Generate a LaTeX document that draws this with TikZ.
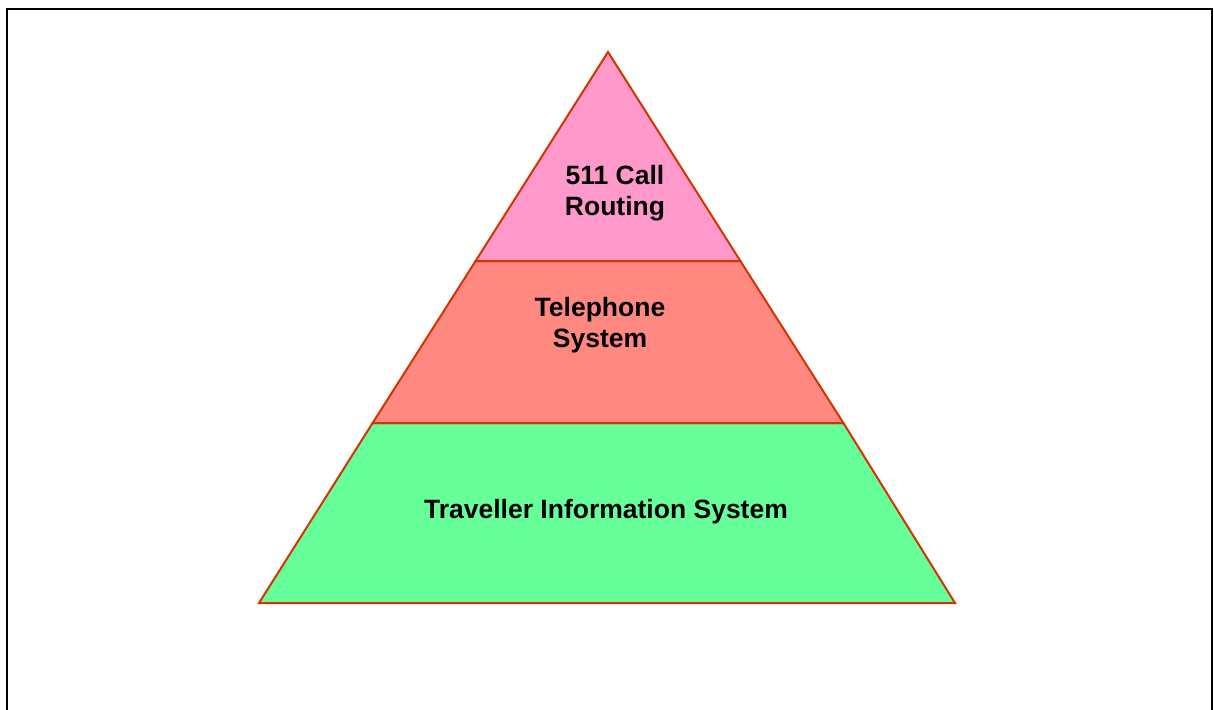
\documentclass[tikz,border=0pt]{standalone}
\usepackage{fontspec}
\setmainfont{Liberation Sans}
\definecolor{edge}{RGB}{212,52,0}
\definecolor{tierA}{RGB}{255,153,204}
\definecolor{tierB}{RGB}{255,136,128}
\definecolor{tierC}{RGB}{102,255,153}
\begin{document}
\begin{tikzpicture}[x=1pt,y=-1pt,
  tier/.style={draw=edge,line width=2pt,line join=miter},
  label/.style={font=\fontsize{26.5}{31}\selectfont\bfseries,align=center,inner sep=0pt}]
\useasboundingbox (0,0) rectangle (1214,709);
% outer frame, open at the bottom
\draw[line width=2.4pt] (7,720) -- (7,9) -- (1212,9) -- (1212,720);
% pyramid corners and tier boundaries
\coordinate (apex) at (608,52);
\coordinate (bl) at (259,603);
\coordinate (br) at (955,603);
\coordinate (u1) at (475.6,261);
\coordinate (u2) at (740.4,261);
\coordinate (m1) at (372.6,423);
\coordinate (m2) at (843.4,423);
% tiers
\filldraw[tier,fill=tierC] (m1) -- (m2) -- (br) -- (bl) -- cycle;
\filldraw[tier,fill=tierB] (u1) -- (u2) -- (m2) -- (m1) -- cycle;
\filldraw[tier,fill=tierA] (apex) -- (u2) -- (u1) -- cycle;
% labels
\node[label] (top) at (615,193) {511 Call\\Routing};
\node[label] (mid) at (600,325) {Telephone\\System};
\node[label] (base) at (606,512) {Traveller Information System};
\end{tikzpicture}
\end{document}
